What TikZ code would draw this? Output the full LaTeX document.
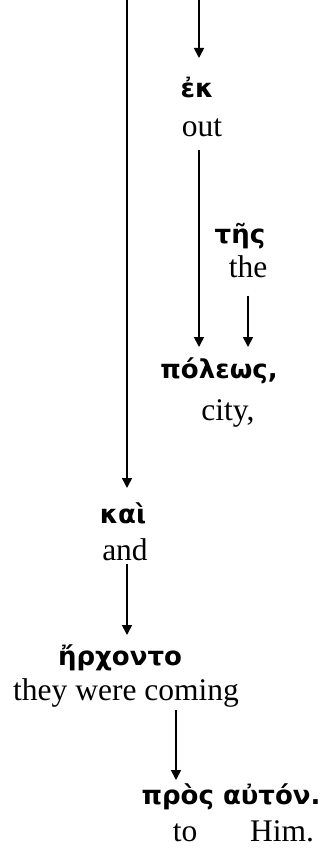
\documentclass[tikz,border=0pt]{standalone}
\usepackage{fontspec}
\setmainfont{Liberation Serif}
\newfontfamily\greekfont{DejaVu Sans}
\usetikzlibrary{arrows.meta}
\tikzset{
  x=1pt, y=-1pt,
  greek/.style={font=\greekfont\bfseries\fontsize{26}{26}\selectfont, inner sep=0pt, anchor=base},
  gloss/.style={font=\fontsize{31.5}{31.5}\selectfont, inner sep=0pt, anchor=base},
  arr/.style={-{Triangle[length=10pt,width=10pt]}, line width=1.7pt}
}
\begin{document}
\begin{tikzpicture}
\useasboundingbox (0,0) rectangle (324,850);
% words
\node[greek] (ek) at (197,98) {ἐκ};
\node[gloss] (out) at (202,137) {out};
\node[greek] (tes) at (240,243) {τῆς};
\node[gloss] (the) at (248,277) {the};
\node[greek] (poleos) at (219,378) {πόλεως,};
\node[gloss] (city) at (228,420) {city,};
\node[greek] (kai) at (123,523) {καὶ};
\node[gloss] (and) at (125,560) {and};
\node[greek] (erchonto) at (120,665) {ἤρχοντο};
\node[gloss] (coming) at (126,700) {they were coming};
\node[greek] (pros) at (231,804) {πρὸς αὐτόν.};
\node[gloss] (to) at (185,841) {to};
\node[gloss] (him) at (282,841) {Him.};
% free ends at the top edge
\coordinate (topA) at (127,0);
\coordinate (topB) at (199,0);
% connectors
\draw[arr] (topA) -- (topA |- 0,488) coordinate (kaiin);
\draw[arr] (topB) -- (topB |- 0,58) coordinate (ekin);
\draw[arr] ([yshift=-12pt]out.south -| topB) -- (topB |- 0,347);
\draw[arr] ([yshift=-18pt]the.south) -- (the.south |- 0,347);
\draw[arr] ([yshift=-3pt]and.south -| kaiin) -- (kaiin |- 0,635);
\draw[arr] ([yshift=-3pt]coming.south -| 176,0) -- (176,780);
\end{tikzpicture}
\end{document}
